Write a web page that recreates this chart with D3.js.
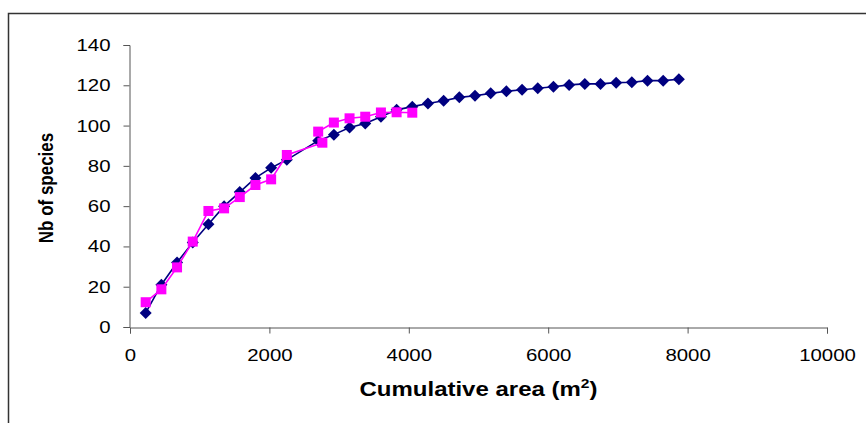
<!DOCTYPE html>
<html>
<head>
<meta charset="utf-8">
<script src="https://cdn.jsdelivr.net/npm/d3@7"></script>
<style>
  body { margin: 0; background: #fff; }
  svg { display: block; font-family: "Liberation Sans", Arial, sans-serif; }
  .ylab text { transform-box: fill-box; transform-origin: right center; transform: scaleX(1.2); }
  .xlab text { transform-box: fill-box; transform-origin: center; transform: scaleX(1.2); }
  .stretch { transform-box: fill-box; transform-origin: center; transform: scaleX(1.2); }
  .vstretch { transform-box: fill-box; transform-origin: center; transform: scaleY(1.2); }
</style>
</head>
<body>
<script>
// series 1 (blue diamonds)
var areaBlue = [225, 450, 675, 900, 1125, 1350, 1575, 1800, 2025, 2250,
    2700, 2925, 3150, 3375, 3600, 3825, 4050, 4275, 4500, 4725, 4950, 5175,
    5400, 5625, 5850, 6075, 6300, 6525, 6750, 6975, 7200, 7425, 7650, 7875];
var speciesBlue = [7, 21, 32, 42, 51, 60, 67, 74, 79, 83,
    92.5, 95.5, 99, 101, 104.4, 107.8, 109.4, 111, 112.3, 114, 114.8, 116,
    117, 117.8, 118.5, 119.3, 120.2, 120.7, 120.7, 121.3, 121.5, 122.3, 122.3, 123];

// series 2 (pink squares), kept in plotted order
var areaPink = [225, 450, 675, 900, 1125, 1350, 1575, 1800, 2025, 2250,
    2760, 2700, 2925, 3150, 3375, 3600, 3825, 4050];
var speciesPink = [12.3, 18.7, 29.6, 42.4, 57.6, 58.9, 64.5, 70.5, 73.3, 85.4,
    91.5, 97, 101.5, 103.6, 104.4, 106.5, 106.6, 106.4];

var xTicks = [0, 2000, 4000, 6000, 8000, 10000];
var yTicks = [0, 20, 40, 60, 80, 100, 120, 140];

var blue = areaBlue.map(function(a, i) { return {area: a, n: speciesBlue[i]}; });
var pink = areaPink.map(function(a, i) { return {area: a, n: speciesPink[i]}; });

var svg = d3.select("body").append("svg")
    .attr("width", 866)
    .attr("height", 423);

// outer frame (runs off the right and bottom of the picture)
svg.append("rect")
    .attr("x", 8.5).attr("y", 13.5)
    .attr("width", 1000).attr("height", 600)
    .attr("fill", "none")
    .attr("stroke", "#333")
    .attr("stroke-width", 1.5);

var x = d3.scaleLinear().domain([0, 10000]).range([130, 827]);
var y = d3.scaleLinear().domain([0, 140]).range([327, 45]);

var xAxis = svg.append("g")
    .attr("class", "xlab")
    .attr("transform", "translate(0,327.5)")
    .call(d3.axisBottom(x).tickValues(xTicks).tickSize(6).tickPadding(15).tickFormat(d3.format("d")));

var yAxis = svg.append("g")
    .attr("class", "ylab")
    .attr("transform", "translate(129.5,0)")
    .call(d3.axisLeft(y).tickValues(yTicks).tickSize(6).tickPadding(13));

[xAxis, yAxis].forEach(function(ax) {
    ax.selectAll("path, line").attr("stroke", "#555").attr("stroke-width", 1);
    ax.selectAll("text")
        .attr("fill", "#000")
        .style("font-size", "17px")
        .style("font-family", "'Liberation Sans', Arial, sans-serif");
});

// axis titles
var xt = svg.append("text")
    .attr("class", "stretch")
    .attr("x", 478.5).attr("y", 396)
    .attr("text-anchor", "middle")
    .style("font-size", "20px")
    .style("font-weight", "bold")
    .text("Cumulative area (m");
xt.append("tspan")
    .attr("dy", -8)
    .style("font-size", "13px")
    .text("2");
xt.append("tspan")
    .attr("dy", 8)
    .text(")");

svg.append("g")
    .attr("transform", "translate(52,188) rotate(-90)")
  .append("text")
    .attr("class", "vstretch")
    .attr("text-anchor", "middle")
    .style("font-size", "17px")
    .style("font-weight", "bold")
    .text("Nb of species");

var line = d3.line()
    .x(function(d) { return x(d.area); })
    .y(function(d) { return y(d.n); });

// blue series
svg.append("path")
    .datum(blue)
    .attr("d", line)
    .attr("fill", "none")
    .attr("stroke", "#000080")
    .attr("stroke-width", 1.6);

svg.append("g").selectAll("path")
    .data(blue)
    .enter().append("path")
    .attr("transform", function(d) { return "translate(" + x(d.area) + "," + y(d.n) + ")"; })
    .attr("d", "M0,-6L6,0L0,6L-6,0Z")
    .attr("fill", "#000080");

// pink series
svg.append("path")
    .datum(pink)
    .attr("d", line)
    .attr("fill", "none")
    .attr("stroke", "#FF00FF")
    .attr("stroke-width", 1.6);

svg.append("g").selectAll("rect")
    .data(pink)
    .enter().append("rect")
    .attr("x", function(d) { return x(d.area) - 5; })
    .attr("y", function(d) { return y(d.n) - 5; })
    .attr("width", 10)
    .attr("height", 10)
    .attr("fill", "#FF00FF");
</script>
</body>
</html>
